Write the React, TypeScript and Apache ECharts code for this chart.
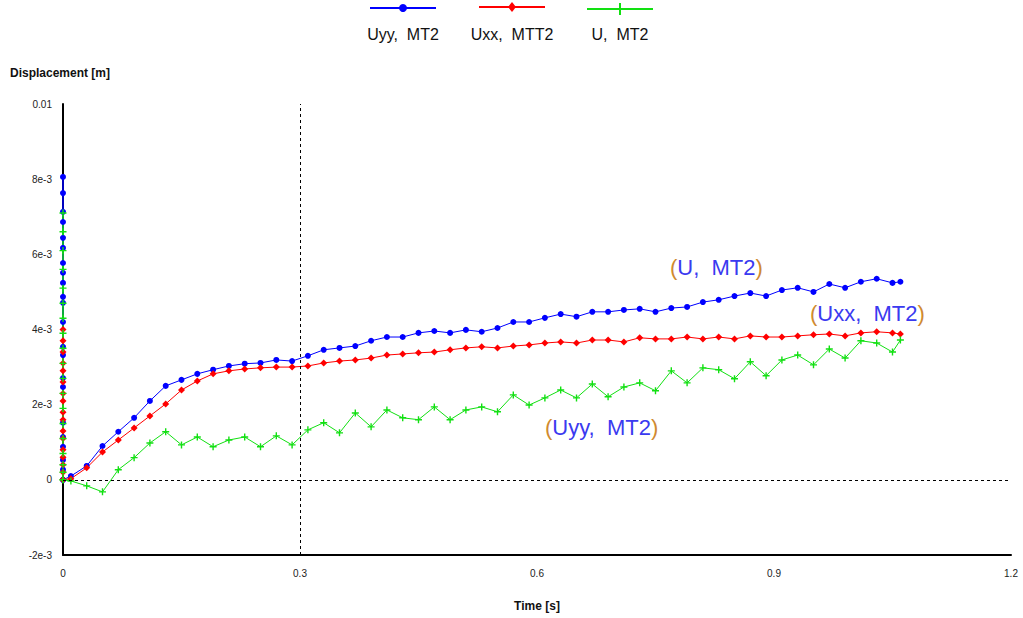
import React, { useEffect, useRef } from "react";
import * as echarts from "echarts";

const xTickLabels = ["0", "0.3", "0.6", "0.9", "1.2"];
const yTickLabels = ["-2e-3", "0", "2e-3", "4e-3", "6e-3", "8e-3", "0.01"];
const seriesNames = ["Uyy, MT2", "Uxx, MTT2", "U, MT2"];
const legendLabels = ["Uyy,  MT2", "Uxx,  MTT2", "U,  MT2"];
const seriesColors = ["#0000ff", "#ff0000", "#12e012"];
const annotationTexts = ["U,  MT2", "Uxx,  MT2", "Uyy,  MT2"];

// values recorded at t = 0 (the spike along the vertical axis)
const uyySpike = [0, 0.00806, 0.00763, 0.00713, 0.00686, 0.00644, 0.00617, 0.00577, 0.00551, 0.00524, 0.00487, 0.00471, 0.0042, 0.00354, 0.00332, 0.00271, 0.00247, 0.00152, 0.00114, 0.00088, 0.00053, 0.00027, 0];
const uxxSpike = [0, 0.004, 0.0037, 0.0034, 0.0031, 0.0029, 0.0026, 0.0023, 0.0021, 0.0018, 0.0016, 0.0013, 0.0011, 0.0008, 0.0006, 0.0004, 0.0002, 0];
const uSpike = [0, 0.0071, 0.0066, 0.0061, 0.0056, 0.0051, 0.0047, 0.0043, 0.0039, 0.0035, 0.0031, 0.0027, 0.0023, 0.0019, 0.0015, 0.0011, 0.0007, 0.0004, 0.0002, 0];

const times = [
  0.01, 0.03, 0.05, 0.07, 0.09, 0.11, 0.13, 0.15, 0.17, 0.19,
  0.21, 0.23, 0.25, 0.27, 0.29, 0.31, 0.33, 0.35, 0.37, 0.39,
  0.41, 0.43, 0.45, 0.47, 0.49, 0.51, 0.53, 0.55, 0.57, 0.59,
  0.61, 0.63, 0.65, 0.67, 0.69, 0.71, 0.73, 0.75, 0.77, 0.79,
  0.81, 0.83, 0.85, 0.87, 0.89, 0.91, 0.93, 0.95, 0.97, 0.99,
  1.01, 1.03, 1.05, 1.06,
];
const uyyValues = [
  0.0001, 0.00037, 0.0009, 0.00128, 0.00165, 0.0021, 0.0025, 0.00266, 0.00282, 0.00293,
  0.00303, 0.00309, 0.00311, 0.00319, 0.00316, 0.0033, 0.00346, 0.00351, 0.00356, 0.0037,
  0.0038, 0.0038, 0.00391, 0.00396, 0.00391, 0.00399, 0.00394, 0.00404, 0.0042, 0.0042,
  0.00431, 0.00441, 0.00434, 0.00447, 0.00447, 0.00452, 0.00455, 0.00447, 0.00457, 0.0046,
  0.00473, 0.00479, 0.00489, 0.00497, 0.00489, 0.00505, 0.00511, 0.005, 0.00521, 0.00511,
  0.00527, 0.00535, 0.00524, 0.00527,
];
const uxxValues = [
  0.00003, 0.00032, 0.00074, 0.00106, 0.00138, 0.0017, 0.00202, 0.00239, 0.00263, 0.00282,
  0.0029, 0.00295, 0.00298, 0.003, 0.003, 0.00303, 0.00311, 0.00316, 0.00319, 0.00324,
  0.00332, 0.00335, 0.00338, 0.0034, 0.00346, 0.00351, 0.00354, 0.00351, 0.00356, 0.00359,
  0.00364, 0.00367, 0.00364, 0.00372, 0.00372, 0.00367, 0.00378, 0.00375, 0.00375, 0.0038,
  0.00375, 0.0038, 0.00375, 0.00383, 0.0038, 0.0038, 0.00383, 0.00386, 0.00388, 0.00383,
  0.00391, 0.00394, 0.00391, 0.00388,
];
const uValues = [
  -0.00003, -0.00016, -0.00032, 0.00027, 0.00059, 0.00098, 0.00128, 0.00093, 0.00114, 0.00088,
  0.00106, 0.00114, 0.00088, 0.00117, 0.00093, 0.00133, 0.00152, 0.00125, 0.00178, 0.00141,
  0.00186, 0.00165, 0.0016, 0.00194, 0.0016, 0.00186, 0.00194, 0.00181, 0.00226, 0.00199,
  0.00218, 0.00239, 0.00218, 0.00255, 0.00221, 0.00247, 0.00258, 0.00237, 0.0029, 0.00258,
  0.00298, 0.00293, 0.00269, 0.00314, 0.00277, 0.00319, 0.00332, 0.00306, 0.00348, 0.00324,
  0.0037, 0.00364, 0.0034, 0.00372,
];

const plusSymbol = "path://M4,0H6V4H10V6H6V10H4V6H0V4H4Z";
const FONT = "'Liberation Sans', Arial, sans-serif";

function buildData(spike: number[], values: number[]) {
  return [
    ...spike.map((v) => [0, v]),
    ...times.map((t, i) => [t, values[i]]),
  ];
}

export default function App() {
  const ref = useRef<HTMLDivElement>(null);

  useEffect(() => {
    if (!ref.current) return;
    const chart = echarts.init(ref.current, undefined, { renderer: "svg" });

    const symbols = ["circle", "diamond", plusSymbol];
    const symbolSizes = [6, 7, 7];
    const datasets = [
      buildData(uyySpike, uyyValues),
      buildData(uxxSpike, uxxValues),
      buildData(uSpike, uValues),
    ];

    const legendX = [403, 512, 620];
    const legendY = [8, 7, 9];
    const legendGraphics: any[] = [];
    legendX.forEach((cx, i) => {
      legendGraphics.push({
        type: "line",
        shape: { x1: cx - 33, y1: legendY[i], x2: cx + 33, y2: legendY[i] },
        style: { stroke: seriesColors[i], lineWidth: 2 },
      });
      if (i === 0) {
        legendGraphics.push({ type: "circle", shape: { cx, cy: legendY[i], r: 4 }, style: { fill: seriesColors[i] } });
      } else if (i === 1) {
        legendGraphics.push({
          type: "polygon",
          shape: { points: [[cx, legendY[i] - 5], [cx + 4, legendY[i]], [cx, legendY[i] + 5], [cx - 4, legendY[i]]] },
          style: { fill: seriesColors[i] },
        });
      } else {
        legendGraphics.push({
          type: "line",
          shape: { x1: cx, y1: legendY[i] - 6, x2: cx, y2: legendY[i] + 6 },
          style: { stroke: seriesColors[i], lineWidth: 2 },
        });
      }
      legendGraphics.push({
        type: "text",
        x: cx,
        y: 26,
        style: { text: legendLabels[i], fill: "#111", font: `16px ${FONT}`, align: "center", verticalAlign: "top" },
      });
    });

    const annPos = [
      [670, 256],
      [810, 302],
      [545, 416],
    ];
    const annGraphics = annotationTexts.map((t, i) => ({
      type: "text",
      x: annPos[i][0],
      y: annPos[i][1],
      style: {
        text: `{p|(}{t|${t}}{p|)}`,
        rich: {
          p: { fill: "#d08a30", font: `22px ${FONT}` },
          t: { fill: "#3a3af0", font: `22px ${FONT}` },
        },
        verticalAlign: "top",
      },
    }));

    chart.setOption({
      animation: false,
      backgroundColor: "#ffffff",
      grid: { left: 63, right: 12, top: 104, bottom: 63, containLabel: false },
      xAxis: {
        type: "value",
        min: 0,
        max: 1.2,
        interval: 0.3,
        name: "Time [s]",
        nameLocation: "middle",
        nameGap: 45,
        nameTextStyle: { fontFamily: FONT, fontSize: 12, fontWeight: "bold", color: "#111" },
        axisLine: { show: true, onZero: false, lineStyle: { color: "#000", width: 2 } },
        axisTick: { show: false },
        splitLine: { show: false },
        axisLabel: {
          margin: 13,
          fontFamily: FONT,
          fontSize: 10,
          color: "#222",
          formatter: (v: number) => xTickLabels[Math.round(v / 0.3)] ?? "",
        },
      },
      yAxis: {
        type: "value",
        min: -0.002,
        max: 0.01,
        interval: 0.002,
        axisLine: { show: true, onZero: false, lineStyle: { color: "#000", width: 2 } },
        axisTick: { show: false },
        splitLine: { show: false },
        axisLabel: {
          margin: 11,
          fontFamily: FONT,
          fontSize: 10,
          color: "#222",
          formatter: (v: number) => yTickLabels[Math.round((v + 0.002) / 0.002)] ?? "",
        },
      },
      graphic: [
        {
          type: "text",
          left: 10,
          top: 67,
          style: { text: "Displacement [m]", font: `bold 12px ${FONT}`, fill: "#111" },
        },
        ...legendGraphics,
        ...annGraphics,
      ],
      series: [
        ...datasets.map((d, i) => ({
          name: seriesNames[i],
          type: "line",
          data: d,
          symbol: symbols[i],
          symbolSize: symbolSizes[i],
          showAllSymbol: true,
          itemStyle: { color: seriesColors[i] },
          lineStyle: { color: seriesColors[i], width: 1 },
          z: 3,
        })),
        {
          name: "guides",
          type: "line",
          data: [],
          silent: true,
          z: 1,
          markLine: {
            silent: true,
            symbol: "none",
            label: { show: false },
            lineStyle: { color: "#000", type: [3, 3], width: 1 },
            data: [{ xAxis: 0.3 }, { yAxis: 0 }],
          },
        },
      ],
    });

    return () => chart.dispose();
  }, []);

  return <div ref={ref} style={{ position: "fixed", left: 0, top: 0, width: 1023, height: 618 }} />;
}
